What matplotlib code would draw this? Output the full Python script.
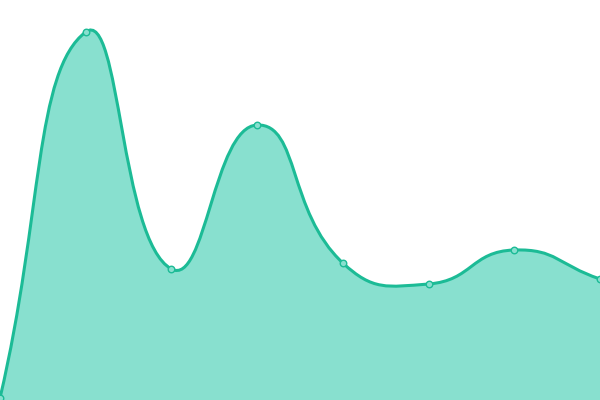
import numpy as np
import matplotlib
matplotlib.use("Agg")
import matplotlib.pyplot as plt
from matplotlib.path import Path
from matplotlib.patches import PathPatch

# data
categories = ["A", "B", "C", "D", "E", "F", "G", "H"]
values = [2, 368, 131, 275, 137, 116, 150, 121]

line_color = "#1cbb96"
fill_color = "#88e0cf"

x = np.arange(len(values), dtype=float)
y = np.array(values, dtype=float)


def smooth_path(px, py, smooth=0.5):
    # bezier smoothing similar to echarts' smooth line
    n = len(px)
    cps = []
    for i in range(n):
        prev = max(i - 1, 0)
        nxt = min(i + 1, n - 1)
        vx = (px[nxt] - px[prev]) * smooth
        vy = (py[nxt] - py[prev]) * smooth
        l0 = np.hypot(px[i] - px[prev], py[i] - py[prev])
        l1 = np.hypot(px[nxt] - px[i], py[nxt] - py[i])
        r = l1 / (l0 + l1) if l0 + l1 > 0 else 0.5
        before = (px[i] - vx * (1 - r), py[i] - vy * (1 - r))
        after = (px[i] + vx * r, py[i] + vy * r)
        cps.append((before, after))
    verts = [(px[0], py[0])]
    codes = [Path.MOVETO]
    for i in range(n - 1):
        verts += [cps[i][1], cps[i + 1][0], (px[i + 1], py[i + 1])]
        codes += [Path.CURVE4] * 3
    return verts, codes


fig = plt.figure(figsize=(6, 4), dpi=100)
ax = fig.add_axes([0, 0, 1, 1])
ax.set_xlim(0, len(values) - 1)
ax.set_ylim(0, 400)
ax.axis("off")

# smoothing done in screen-like units so the aspect matches
sx = 600 / (len(values) - 1)
verts, codes = smooth_path(x * sx, y)
verts = [(vx / sx, vy) for vx, vy in verts]

fill_verts = verts + [(x[-1], 0), (x[0], 0), verts[0]]
fill_codes = codes + [Path.LINETO, Path.LINETO, Path.CLOSEPOLY]
ax.add_patch(PathPatch(Path(fill_verts, fill_codes), facecolor=fill_color,
                       edgecolor="none", zorder=1))
ax.add_patch(PathPatch(Path(verts, codes), facecolor="none",
                       edgecolor=line_color, lw=2.2, zorder=2))
ax.scatter(x, y, s=22, facecolor=fill_color, edgecolor=line_color,
           linewidth=1, zorder=3, clip_on=False)

fig.savefig("out.png", dpi=100)
